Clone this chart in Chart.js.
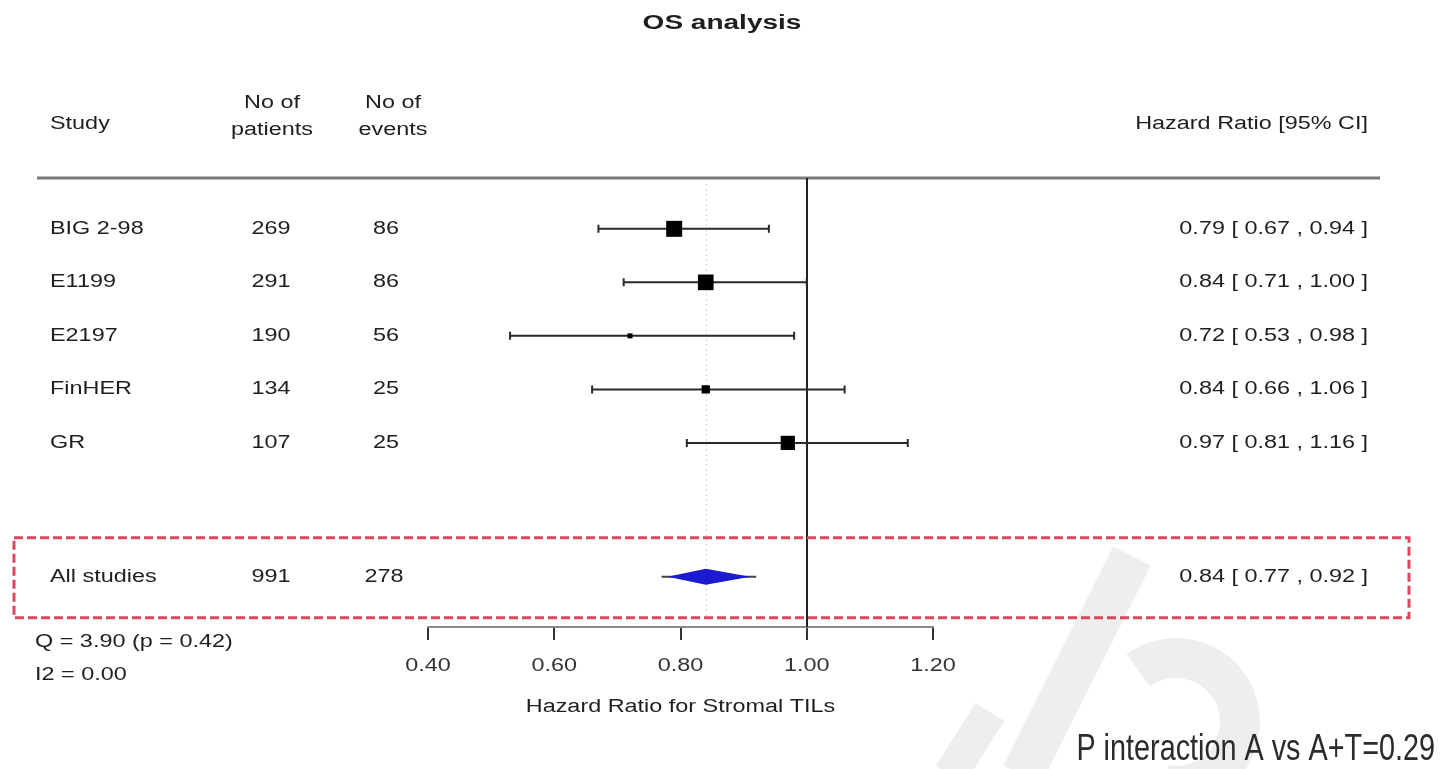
<!DOCTYPE html>
<html>
<head>
<meta charset="utf-8">
<title>OS analysis</title>
<script src="https://cdn.jsdelivr.net/npm/chart.js@4.4.1/dist/chart.umd.min.js"></script>
<style>
  html, body { margin: 0; padding: 0; background: #fff; }
  #wrap { position: relative; width: 1442px; height: 769px; }
</style>
</head>
<body>
<div id="wrap"><canvas id="forest" width="1442" height="769"></canvas></div>
<script>
// ── Forest plot: OS analysis, stromal TILs ──

const studies = ['BIG 2-98', 'E1199', 'E2197', 'FinHER', 'GR'];
const patients = [269, 291, 190, 134, 107];
const events = [86, 86, 56, 25, 25];
const hazardRatio = [0.79, 0.84, 0.72, 0.84, 0.97];
const ciLower = [0.67, 0.71, 0.53, 0.66, 0.81];
const ciUpper = [0.94, 1.00, 0.98, 1.06, 1.16];

const summaryLabel = 'All studies';
const summaryPatients = 991;
const summaryEvents = 278;
const summaryHR = 0.84;
const summaryLower = 0.77;
const summaryUpper = 0.92;

const xTicks = [0.40, 0.60, 0.80, 1.00, 1.20];
const heterogeneity = ['Q = 3.90 (p = 0.42)', 'I2 = 0.00'];
const interactionNote = 'P interaction A vs A+T=0.29';

const FONT = '"Liberation Sans", Arial, sans-serif';
const TEXT_COLOR = '#1e1e1e';
const STRETCH = 1.3;

// inverse-variance weights (log scale) -> square side in px
const weights = studies.map((_, i) => {
  const se = (Math.log(ciUpper[i]) - Math.log(ciLower[i])) / (2 * 1.96);
  return 1 / (se * se);
});
const wMin = Math.min(...weights), wMax = Math.max(...weights);
const squareSide = weights.map(w => 5 + (w - wMin) / (wMax - wMin) * 11);

const summaryRow = studies.length + 1.5;
const fmtCI = (hr, lo, hi) => `${hr.toFixed(2)} [ ${lo.toFixed(2)} , ${hi.toFixed(2)} ]`;

// text drawn a bit wider than the font's natural width
function wideText(ctx, str, x, y, align, font, sx, color) {
  ctx.save();
  ctx.font = font;
  ctx.fillStyle = color || TEXT_COLOR;
  ctx.textAlign = align;
  ctx.textBaseline = 'middle';
  ctx.translate(x, y);
  ctx.scale(sx, 1);
  ctx.fillText(str, 0, 0);
  ctx.restore();
}

const forestPlugin = {
  id: 'forest',
  beforeDraw(chart) {
    const ctx = chart.ctx;
    // faint background mark, lower right
    ctx.save();
    ctx.strokeStyle = '#eeeeee';
    ctx.lineCap = 'butt';
    ctx.lineWidth = 42;
    ctx.beginPath();
    ctx.moveTo(1022, 775);
    ctx.lineTo(1132, 556);
    ctx.stroke();
    ctx.lineWidth = 40;
    ctx.beginPath();
    ctx.arc(1176, 722, 64, -2.2, 1.75);
    ctx.stroke();
    ctx.lineWidth = 34;
    ctx.beginPath();
    ctx.moveTo(950, 775);
    ctx.lineTo(990, 712);
    ctx.stroke();
    ctx.restore();
  },
  beforeDatasetsDraw(chart) {
    const { ctx, chartArea, scales: { x, y } } = chart;
    const ySum = y.getPixelForValue(summaryRow);

    // header rule
    ctx.save();
    ctx.strokeStyle = '#7a7a7a';
    ctx.lineWidth = 3;
    ctx.beginPath();
    ctx.moveTo(37, chartArea.top);
    ctx.lineTo(1380, chartArea.top);
    ctx.stroke();

    // summary estimate (dotted) and no-effect line
    ctx.strokeStyle = '#d4d4d4';
    ctx.lineWidth = 1;
    ctx.setLineDash([2, 3]);
    const xs = Math.round(x.getPixelForValue(summaryHR)) + 0.5;
    ctx.beginPath();
    ctx.moveTo(xs, chartArea.top + 6);
    ctx.lineTo(xs, chartArea.bottom - 8);
    ctx.stroke();
    ctx.setLineDash([]);

    ctx.strokeStyle = '#222';
    ctx.lineWidth = 2;
    const x1 = Math.round(x.getPixelForValue(1));
    ctx.beginPath();
    ctx.moveTo(x1, chartArea.top);
    ctx.lineTo(x1, chartArea.bottom);
    ctx.stroke();

    // red dashed frame round the pooled row
    ctx.strokeStyle = '#d9485e';
    ctx.lineWidth = 3;
    ctx.setLineDash([9, 4]);
    ctx.strokeRect(14, ySum - 39, 1395, 80);
    ctx.setLineDash([]);

    // confidence intervals
    ctx.strokeStyle = '#2a2a2a';
    ctx.lineWidth = 2;
    studies.forEach((_, i) => {
      const py = y.getPixelForValue(i);
      const xl = x.getPixelForValue(ciLower[i]);
      const xu = x.getPixelForValue(ciUpper[i]);
      ctx.beginPath();
      ctx.moveTo(xl, py);
      ctx.lineTo(xu, py);
      ctx.moveTo(xl, py - 4);
      ctx.lineTo(xl, py + 4);
      ctx.moveTo(xu, py - 4);
      ctx.lineTo(xu, py + 4);
      ctx.stroke();
    });
    ctx.restore();
  },
  afterDatasetsDraw(chart) {
    const { ctx, chartArea, scales: { x, y } } = chart;
    const ySum = y.getPixelForValue(summaryRow);

    // pooled estimate diamond
    const dl = x.getPixelForValue(summaryLower);
    const dm = x.getPixelForValue(summaryHR);
    const du = x.getPixelForValue(summaryUpper);
    ctx.save();
    ctx.strokeStyle = '#444';
    ctx.lineWidth = 2;
    ctx.beginPath();
    ctx.moveTo(dl, ySum);
    ctx.lineTo(du, ySum);
    ctx.stroke();
    ctx.fillStyle = '#1a1ad0';
    ctx.beginPath();
    ctx.moveTo(dl + 6, ySum);
    ctx.lineTo(dm, ySum - 8);
    ctx.lineTo(du - 6, ySum);
    ctx.lineTo(dm, ySum + 8);
    ctx.closePath();
    ctx.fill();
    ctx.restore();

    const f18 = '18px ' + FONT;

    // title and column headers
    wideText(ctx, 'OS analysis', 722, 23, 'center', 'bold 20px ' + FONT, 1.4);
    wideText(ctx, 'Study', 50, 124, 'left', f18, STRETCH);
    wideText(ctx, 'No of', 272, 103, 'center', f18, STRETCH);
    wideText(ctx, 'patients', 272, 130, 'center', f18, STRETCH);
    wideText(ctx, 'No of', 393, 103, 'center', f18, STRETCH);
    wideText(ctx, 'events', 393, 130, 'center', f18, STRETCH);
    wideText(ctx, 'Hazard Ratio [95% CI]', 1368, 124, 'right', f18, STRETCH);

    // study rows
    studies.forEach((name, i) => {
      const py = y.getPixelForValue(i);
      wideText(ctx, name, 50, py, 'left', f18, STRETCH);
      wideText(ctx, String(patients[i]), 271, py, 'center', f18, STRETCH);
      wideText(ctx, String(events[i]), 386, py, 'center', f18, STRETCH);
      wideText(ctx, fmtCI(hazardRatio[i], ciLower[i], ciUpper[i]), 1368, py, 'right', f18, STRETCH);
    });

    // pooled row
    wideText(ctx, summaryLabel, 50, ySum, 'left', f18, STRETCH);
    wideText(ctx, String(summaryPatients), 271, ySum, 'center', f18, STRETCH);
    wideText(ctx, String(summaryEvents), 384, ySum, 'center', f18, STRETCH);
    wideText(ctx, fmtCI(summaryHR, summaryLower, summaryUpper), 1368, ySum, 'right', f18, STRETCH);

    // x tick labels, same widened face as the table
    x.ticks.forEach(t => {
      wideText(ctx, t.value.toFixed(2), x.getPixelForValue(t.value), 666, 'center', f18, STRETCH, '#333');
    });

    // heterogeneity, axis title, note
    wideText(ctx, heterogeneity[0], 35, 642, 'left', f18, STRETCH);
    wideText(ctx, heterogeneity[1], 35, 675, 'left', f18, STRETCH);
    wideText(ctx, 'Hazard Ratio for Stromal TILs', (chartArea.left + chartArea.right) / 2, 707, 'center', f18, STRETCH);
    wideText(ctx, interactionNote, 1435, 750, 'right', '36px ' + FONT, 0.8, '#2b2b2b');
  }
};

new Chart(document.getElementById('forest'), {
  type: 'scatter',
  data: {
    datasets: [{
      data: studies.map((_, i) => ({ x: hazardRatio[i], y: i })),
      pointStyle: 'rect',
      pointRadius: squareSide.map(s => s / (2 * Math.SQRT1_2)),
      pointHoverRadius: squareSide.map(s => s / (2 * Math.SQRT1_2)),
      backgroundColor: '#000',
      borderWidth: 0
    }]
  },
  options: {
    responsive: false,
    animation: false,
    events: [],
    layout: { padding: { left: 428, right: 509, top: 178, bottom: 82 } },
    plugins: {
      legend: { display: false },
      tooltip: { enabled: false }
    },
    scales: {
      x: {
        type: 'linear',
        min: 0.4,
        max: 1.2,
        afterBuildTicks: s => { s.ticks = xTicks.map(v => ({ value: v })); },
        afterFit: s => { s.height = 60; },
        ticks: { display: false },
        grid: { drawOnChartArea: false, drawTicks: true, tickLength: 13, color: '#333', lineWidth: 2 },
        border: { display: true, color: '#8a8a8a', width: 2 }
      },
      y: {
        type: 'linear',
        display: false,
        reverse: true,
        min: -0.95,
        max: 7.44
      }
    }
  },
  plugins: [forestPlugin]
});
</script>
</body>
</html>
